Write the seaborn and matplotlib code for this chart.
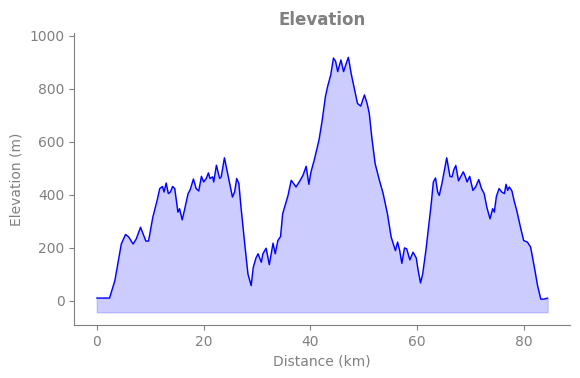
import numpy as np
import pandas as pd
import matplotlib
matplotlib.use("Agg")
import matplotlib.pyplot as plt
import seaborn as sns

# Elevation profile
distance_km = [
    0.0, 2.4, 3.4, 4.6, 5.4, 6.0, 6.8, 7.4, 8.2, 9.2, 9.7, 10.5, 11.3, 11.8,
    12.3, 12.6, 13.0, 13.4, 13.8, 14.2, 14.6, 15.2, 15.5, 16.0, 16.4, 17.1,
    17.5, 18.1, 18.6, 19.1, 19.6, 20.0, 20.5, 20.9, 21.2, 21.7, 21.9, 22.4,
    23.0, 23.3, 23.9, 24.5, 25.4, 25.8, 26.2, 26.6, 27.0, 27.7, 28.3, 28.9,
    29.3, 29.8, 30.2, 30.8, 31.1, 31.7, 32.3, 33.0, 33.4, 33.9, 34.4, 34.8,
    35.8, 36.4, 37.3, 37.9, 38.6, 39.2, 39.7, 40.1, 40.7, 41.0, 41.6, 42.2,
    42.8, 43.2, 43.8, 44.3, 44.7, 45.1, 45.7, 46.2, 46.6, 47.1, 47.6, 48.2,
    48.8, 49.4, 50.1, 50.6, 51.0, 51.5, 52.1, 52.9, 53.6, 54.4, 55.1, 55.9,
    56.3, 56.7, 57.1, 57.6, 58.0, 58.6, 59.2, 59.8, 60.1, 60.6, 61.0, 61.6,
    62.1, 62.6, 63.0, 63.4, 63.8, 64.1, 64.6, 65.0, 65.5, 66.1, 66.5, 66.8,
    67.2, 67.7, 68.1, 68.6, 69.0, 69.3, 69.8, 70.4, 70.9, 71.5, 72.0, 72.5,
    73.0, 73.6, 74.1, 74.4, 74.8, 75.3, 75.8, 76.3, 76.6, 76.9, 77.2, 77.7,
    78.1, 78.6, 79.3, 79.9, 80.6, 81.2, 81.9, 82.5, 83.1, 83.7, 84.4,
]
elevation_m = [
    10, 10, 76, 214, 250, 240, 214, 233, 277, 225, 225, 315, 378, 423,
    431, 410, 444, 404, 410, 431, 423, 334, 347, 305, 340, 404,
    419, 459, 423, 414, 469, 448, 461, 482, 461, 467, 448, 511,
    461, 467, 539, 479, 391, 410, 461, 442, 353, 214, 101, 57,
    126, 161, 177, 145, 177, 198, 136, 217, 177, 227, 242, 328,
    397, 454, 429, 448, 473, 507, 439, 486, 530, 555, 606, 681,
    770, 807, 852, 915, 903, 864, 908, 864, 889, 918, 858, 801,
    744, 734, 776, 744, 707, 612, 517, 454, 404, 328, 240, 189,
    221, 189, 141, 199, 196, 154, 183, 161, 120, 67, 101, 189,
    277, 366, 448, 463, 410, 397, 442, 486, 539, 469, 467, 492,
    510, 452, 467, 486, 467, 448, 469, 416, 429, 457, 423, 404,
    353, 309, 347, 334, 394, 423, 410, 404, 439, 416, 429, 414,
    378, 340, 277, 227, 221, 202, 126, 57, 6, 6, 10,
]

df = pd.DataFrame({"Distance (km)": distance_km, "Elevation (m)": elevation_m})
fill_base = min(elevation_m) - 50

sns.set_style("ticks")
text_gray = "#808080"

fig, ax = plt.subplots(figsize=(5.8, 3.78), dpi=100)
fig.subplots_adjust(left=0.128, right=0.983, top=0.913, bottom=0.14)

sns.lineplot(data=df, x="Distance (km)", y="Elevation (m)", color="blue",
             linewidth=1.0, ax=ax)
ax.fill_between(df["Distance (km)"], df["Elevation (m)"], fill_base,
                color="blue", alpha=0.2, linewidth=0.8)

ax.set_xlim(-4.2, 88.6)
ax.set_ylim(-92, 1010)
ax.set_yticks([0, 200, 400, 600, 800, 1000])
ax.set_xticks([0, 20, 40, 60, 80])

ax.set_title("Elevation", fontsize=12, fontweight="bold", color=text_gray)
ax.set_xlabel("Distance (km)", fontsize=10, color=text_gray)
ax.set_ylabel("Elevation (m)", fontsize=10, color=text_gray)
ax.tick_params(colors=text_gray, labelsize=10)
for side in ["left", "bottom"]:
    ax.spines[side].set_color(text_gray)
sns.despine(ax=ax)

plt.savefig("out.png", dpi=100)
